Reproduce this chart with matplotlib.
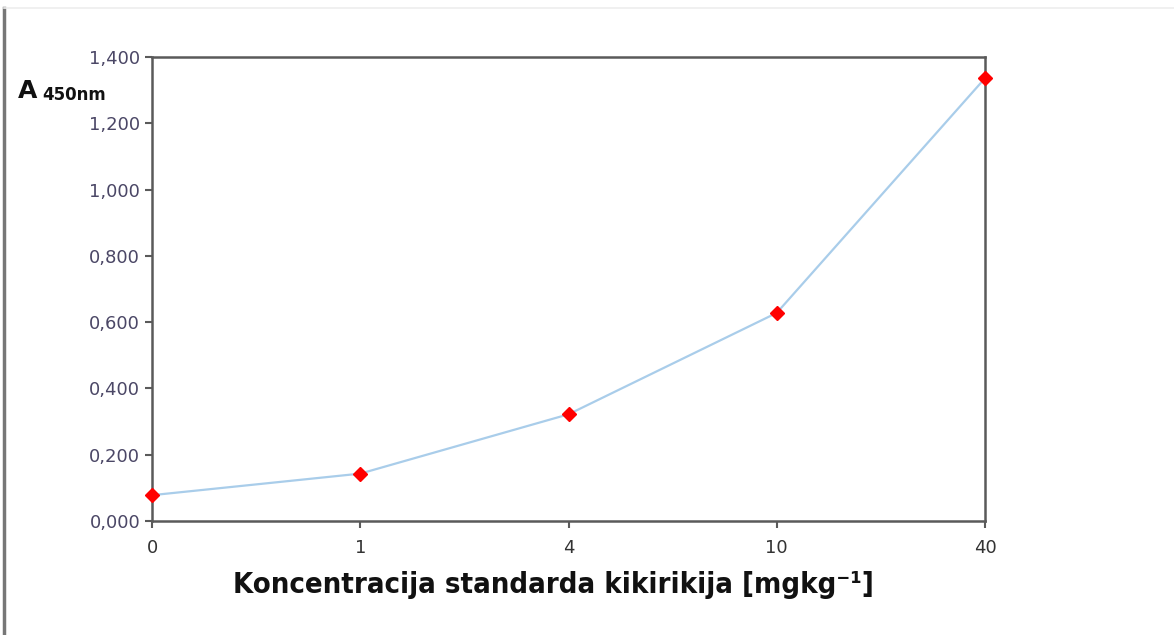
import matplotlib.pyplot as plt
from matplotlib.lines import Line2D
from matplotlib.ticker import FuncFormatter

# Standard concentrations (categorical axis) and absorbance at 450 nm
concentrations = ['0', '1', '4', '10', '40']
absorbance = [0.078, 0.143, 0.322, 0.628, 1.336]
y_ticks = [0, 0.2, 0.4, 0.6, 0.8, 1.0, 1.2, 1.4]


def comma_fmt(v, pos):
    s = f'{v:.3f}'.replace('.', ',')
    if v >= 1:
        s = '1,' + s[2:]
    return s


fig = plt.figure(figsize=(11.74, 6.35), dpi=100)
ax = fig.add_axes([0.1295, 0.1795, 0.7095, 0.7307])

x = range(len(concentrations))
ax.plot(x, absorbance, color='#a9cdea', linewidth=1.6, zorder=2)
ax.plot(x, absorbance, linestyle='none', marker='D', markersize=7.5,
        color='#ff0000', zorder=3, clip_on=False)

ax.set_xlim(0, len(concentrations) - 1)
ax.set_ylim(0, 1.4)
ax.set_xticks(list(x))
ax.set_xticklabels(concentrations)
ax.set_yticks(y_ticks)
ax.yaxis.set_major_formatter(FuncFormatter(comma_fmt))

for s in ax.spines.values():
    s.set_color('#5a5a5a')
    s.set_linewidth(1.8)
ax.tick_params(axis='both', direction='out', length=5, width=1.5, color='#5a5a5a',
               labelsize=13, labelcolor='#4b4766')
ax.tick_params(axis='x', labelcolor='#333333', pad=8)

ax.set_xlabel('Koncentracija standarda kikirikija [mgkg⁻¹]', fontsize=21,
              fontweight='bold', fontstretch='condensed', color='#111111')
ax.xaxis.set_label_coords(0.482, -0.108)
fig.text(0.015, 0.856, 'A', fontsize=18, fontweight='bold',
         color='#111111', ha='left', va='center')
fig.text(0.036, 0.850, '450nm', fontsize=12, fontweight='bold',
         color='#111111', ha='left', va='center')

# Page frame lines from the screenshot
fig.add_artist(Line2D([0.003, 0.003], [0, 0.987], color='#777777', linewidth=2.5,
                      transform=fig.transFigure))
fig.add_artist(Line2D([0.003, 1], [0.987, 0.987], color='#eeeeee', linewidth=1.2,
                      transform=fig.transFigure))

fig.savefig('out.png', dpi=100)
